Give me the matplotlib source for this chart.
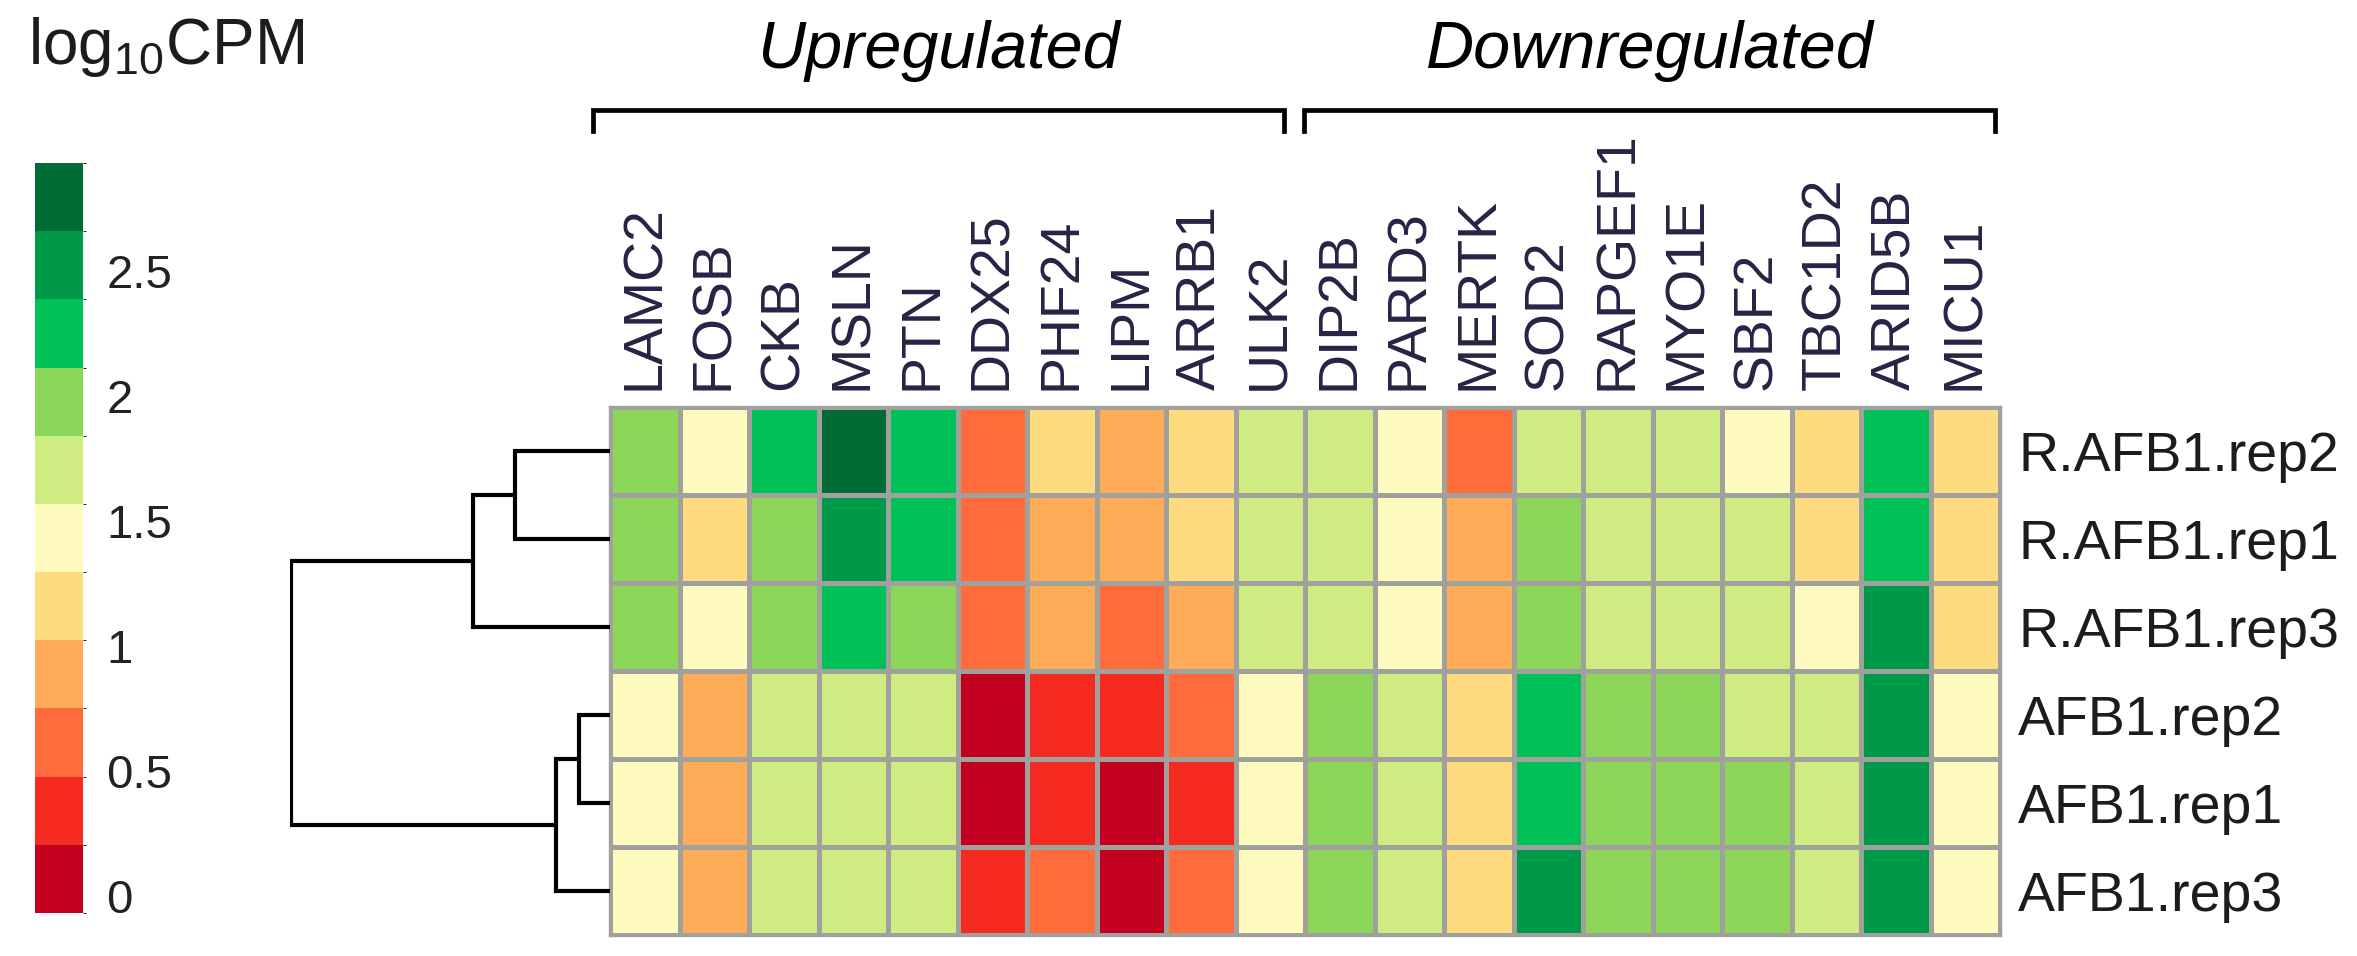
import numpy as np
import matplotlib
matplotlib.use('Agg')
import matplotlib.pyplot as plt
from matplotlib.colors import ListedColormap, BoundaryNorm
from matplotlib.colorbar import ColorbarBase
from matplotlib.transforms import blended_transform_factory

plt.rcParams['font.family'] = ['Liberation Sans', 'DejaVu Sans']
plt.rcParams['mathtext.fontset'] = 'custom'
plt.rcParams['mathtext.rm'] = 'Liberation Sans'
plt.rcParams['mathtext.it'] = 'Liberation Sans:italic'

# ---------------- data ----------------
genes = ['LAMC2', 'FOSB', 'CKB', 'MSLN', 'PTN', 'DDX25', 'PHF24', 'LIPM', 'ARRB1', 'ULK2',
         'DIP2B', 'PARD3', 'MERTK', 'SOD2', 'RAPGEF1', 'MYO1E', 'SBF2', 'TBC1D2', 'ARID5B', 'MICU1']
samples = ['R.AFB1.rep2', 'R.AFB1.rep1', 'R.AFB1.rep3', 'AFB1.rep2', 'AFB1.rep1', 'AFB1.rep3']
groups = ['Upregulated', 'Downregulated']
group_sizes = [10, 10]

# log10CPM values (estimated from the colour bins)
row_r_rep2 = [1.98, 1.43, 2.25, 2.80, 2.25, 0.61, 1.16, 0.89, 1.16, 1.71,
              1.71, 1.43, 0.61, 1.71, 1.71, 1.71, 1.43, 1.16, 2.25, 1.16]
row_r_rep1 = [1.98, 1.16, 1.98, 2.52, 2.25, 0.61, 0.89, 0.89, 1.16, 1.71,
              1.71, 1.43, 0.89, 1.98, 1.71, 1.71, 1.71, 1.16, 2.25, 1.16]
row_r_rep3 = [1.98, 1.43, 1.98, 2.25, 1.98, 0.61, 0.89, 0.61, 0.89, 1.71,
              1.71, 1.43, 0.89, 1.98, 1.71, 1.71, 1.71, 1.43, 2.52, 1.16]
row_a_rep2 = [1.43, 0.89, 1.71, 1.71, 1.71, 0.07, 0.34, 0.34, 0.61, 1.43,
              1.98, 1.71, 1.16, 2.25, 1.98, 1.98, 1.71, 1.71, 2.52, 1.43]
row_a_rep1 = [1.43, 0.89, 1.71, 1.71, 1.71, 0.07, 0.34, 0.07, 0.34, 1.43,
              1.98, 1.71, 1.16, 2.25, 1.98, 1.98, 1.98, 1.71, 2.52, 1.43]
row_a_rep3 = [1.43, 0.89, 1.71, 1.71, 1.71, 0.34, 0.61, 0.07, 0.61, 1.43,
              1.98, 1.71, 1.16, 2.52, 1.98, 1.98, 1.98, 1.71, 2.52, 1.43]

# hierarchical clustering of the samples (row order as shown)
# (child_a, child_b, height); leaves 0..5, merged nodes numbered 6, 7, ...
merges = [(0, 1, 0.95), (6, 2, 1.37), (3, 4, 0.31), (8, 5, 0.54), (7, 9, 3.19)]

# colour scale
bin_colors = ['#C20020', '#F52A20', '#FF6B3B', '#FFAC58', '#FFDB80', '#FFFBBF',
              '#CFEC82', '#8CD75A', '#00C157', '#00994A', '#006B35']
breaks = np.linspace(-0.068, 2.932, 12)
cbar_ticks = [0, 0.5, 1, 1.5, 2, 2.5]
cbar_ticklabels = ['0', '0.5', '1', '1.5', '2', '2.5']

# ---------------- figure ----------------
W, H = 2357, 956
fig = plt.figure(figsize=(W / 100, H / 100), dpi=100)

def px_axes(x0, y0, x1, y1):
    return fig.add_axes([x0 / W, 1 - y1 / H, (x1 - x0) / W, (y1 - y0) / H])

values = np.array([row_r_rep2, row_r_rep1, row_r_rep3, row_a_rep2, row_a_rep1, row_a_rep3])
cmap = ListedColormap(bin_colors)
norm = BoundaryNorm(breaks, cmap.N)

grid_col = '#A0A09C'
hx0, hy0, hx1, hy1 = 610, 407, 2000, 935
ax = px_axes(hx0, hy0, hx1, hy1)
ax.pcolormesh(values, cmap=cmap, norm=norm, edgecolors=grid_col, linewidth=2.4)
ax.set_xlim(0, len(genes))
ax.set_ylim(len(samples), 0)
for s in ax.spines.values():
    s.set_color(grid_col)
    s.set_linewidth(2.4)
ax.xaxis.tick_top()
ax.set_xticks(np.arange(len(genes)) + 0.5)
ax.set_xticklabels(genes, rotation=90, fontsize=40, color='#2a2145')
ax.yaxis.tick_right()
ax.set_yticks(np.arange(len(samples)) + 0.5)
ax.set_yticklabels(samples, fontsize=40, color='#1c1c1c')
ax.tick_params(axis='x', length=0, pad=12)
ax.tick_params(axis='y', length=0, pad=13)

# group brackets
trans = blended_transform_factory(ax.transData, ax.transAxes)
span_px = hy1 - hy0
y_line = 1 + (hy0 - 110) / span_px
y_tick = 1 + (hy0 - 131) / span_px
y_text = 1 + (hy0 - 68) / span_px
bracket_insets = [(-0.25, -0.30), (-0.02, -0.07)]
start = 0
for name, n, (il, ir) in zip(groups, group_sizes, bracket_insets):
    xl, xr = start + il, start + n + ir
    ax.plot([xl, xl, xr, xr], [y_tick, y_line, y_line, y_tick], transform=trans,
            color='black', lw=3.4, clip_on=False, solid_joinstyle='miter')
    ax.text((xl + xr) / 2, y_text, name, transform=trans, ha='center', va='baseline',
            fontsize=48, style='italic', color='black')
    start += n

# dendrogram
dax = px_axes(290, hy0, hx0, hy1)
n_leaf = len(samples)
pos = {i: i + 0.5 for i in range(n_leaf)}
hgt = {i: 0.0 for i in range(n_leaf)}
for k, (a, b, h) in enumerate(merges):
    dax.plot([hgt[a], h, h, hgt[b]], [pos[a], pos[a], pos[b], pos[b]],
             color='black', lw=3.0, solid_joinstyle='miter', solid_capstyle='butt')
    node = n_leaf + k
    pos[node] = (pos[a] + pos[b]) / 2
    hgt[node] = h
dax.set_xlim(3.20, 0)
dax.set_ylim(n_leaf, 0)
dax.axis('off')

# colour key
cax = px_axes(35, 163, 83, 913)
cb = ColorbarBase(cax, cmap=cmap, norm=norm, boundaries=breaks, ticks=cbar_ticks,
                  orientation='vertical')
cb.outline.set_visible(False)
cax.set_yticklabels(cbar_ticklabels)
cax.tick_params(length=0, labelsize=34, pad=17, colors='#222222')

fig.text(28 / W, 1 - 64 / H, r'log$_{\mathrm{10}}$CPM', fontsize=46, va='baseline',
         ha='left', color='#1c1c1c')

fig.savefig('out.png', dpi=100)
